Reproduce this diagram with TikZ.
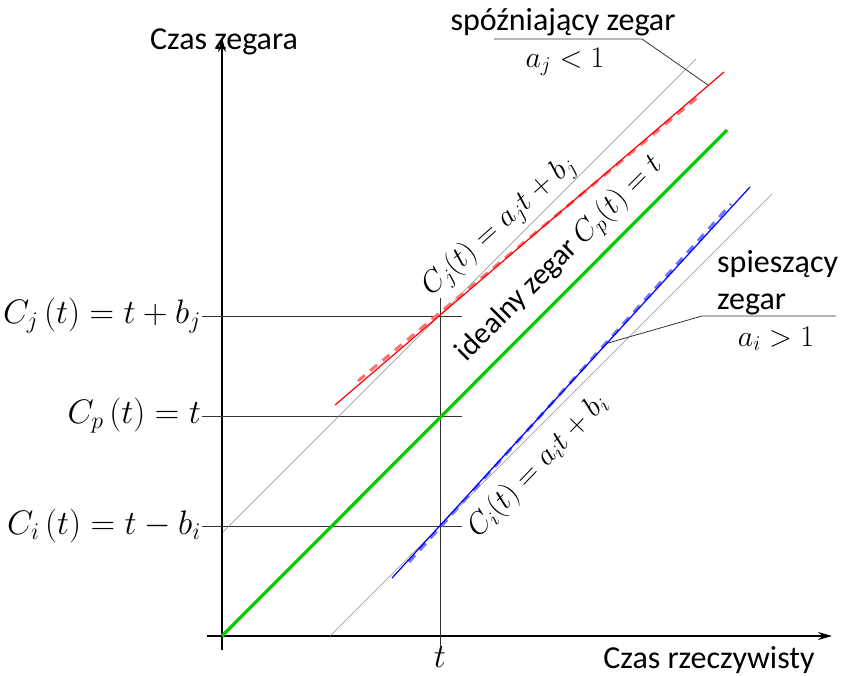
\documentclass[tikz,border=0pt]{standalone}
\usepackage{fix-cm}
\usepackage[no-math]{fontspec}
\setmainfont{Carlito}
\usetikzlibrary{arrows.meta}
\definecolor{idealgreen}{RGB}{0,204,0}
\tikzset{
	axis/.style={line width=1.8pt, -{Stealth[length=14pt,width=8pt]}},
	guide/.style={line width=0.8pt, black!80},
	helper/.style={line width=0.4pt, black!45},
	clockline/.style={line width=1.2pt},
	approx/.style={line width=3pt, dash pattern=on 9pt off 7pt},
	sans/.style={font=\fontsize{32}{37}\selectfont, inner sep=1pt},
	formula/.style={font=\fontsize{34}{38}\selectfont, inner sep=1pt},
	slanted/.style={font=\fontsize{30}{34}\selectfont, inner sep=1pt},
}
\begin{document}
\begin{tikzpicture}[x=1pt,y=-1pt]
	\useasboundingbox (0,0) rectangle (846,675);

	% axes
	\coordinate (o) at (222,636);
	\coordinate (ybot) at (222,650);
	\coordinate (ytop) at (222,38);
	\coordinate (xbeg) at (207,636);
	\coordinate (xend) at (832,636);
	\draw[axis] (ybot) -- (ytop);
	\draw[axis] (xbeg) -- (xend);
	\node[sans] (ylabel) at (224,42) {Czas zegara};
	\node[sans] (xlabel) at (709,660) {Czas rzeczywisty};

	% chwila t
	\node[formula] (tmark) at (440,657) {$t$};
	\coordinate (ttop) at (440,298);
	\coordinate (tbot) at (440,648);
	\draw[guide] (tbot) -- (ttop);

	% odczyty zegarow
	\node[formula, anchor=east] (cj) at (202,316) {$C_j\,(t) = t + b_j$};
	\node[formula, anchor=east] (cp) at (202,416) {$C_p\,(t) = t$};
	\node[formula, anchor=east] (ci) at (202,526) {$C_i\,(t) = t - b_i$};
	\coordinate (cjend) at (462,316);
	\coordinate (cpend) at (462,416);
	\coordinate (ciend) at (462,526);
	\draw[guide] (cj.east) -- (cjend);
	\draw[guide] (cp.east) -- (cpend);
	\draw[guide] (ci.east) -- (ciend);

	% linie pomocnicze 45 stopni
	\coordinate (ha1) at (223,532);
	\coordinate (ha2) at (696,59);
	\coordinate (hb1) at (330,636);
	\coordinate (hb2) at (772,194);
	\draw[helper] (ha1) -- (ha2);
	\draw[helper] (hb1) -- (hb2);

	% zegar idealny
	\coordinate (p2) at (727,130);
	\draw[idealgreen, line width=3.2pt] (o) -- (p2);
	\node[slanted, rotate=45] (plabel) at (560,259) {idealny zegar $C_p(t) = t$};

	% zegar spozniajacy
	\coordinate (j1) at (335,405);
	\coordinate (j2) at (724,72);
	\coordinate (jd1) at (358,381);
	\coordinate (jd2) at (698,97);
	\draw[approx, red!55] (jd1) -- (jd2);
	\draw[clockline, red] (j1) -- (j2);
	\node[slanted, rotate=42] (jlabel) at (499,226) {$C_j(t) = a_j t + b_j$};

	% zegar spieszacy
	\coordinate (i1) at (392,578);
	\coordinate (i2) at (750,187);
	\coordinate (id1) at (409,562);
	\coordinate (id2) at (731,204);
	\draw[approx, blue!55] (id1) -- (id2);
	\draw[clockline, blue] (i1) -- (i2);
	\node[slanted, rotate=46] (ilabel) at (538,466) {$C_i(t) = a_i t + b_i$};

	% opisy
	\node[sans] (late) at (563,22) {spóźniający zegar};
	\node[slanted] (lateval) at (565,62) {$a_j < 1$};
	\coordinate (lk1) at (494,39);
	\coordinate (lk2) at (642,39);
	\coordinate (lk3) at (708,85);
	\draw[guide] (lk1) -- (lk2) -- (lk3);

	\node[sans, align=left, anchor=west] (fast) at (716,283) {spieszący\\zegar};
	\node[slanted] (fastval) at (776,339) {$a_i > 1$};
	\coordinate (fk1) at (836,316);
	\coordinate (fk2) at (702,316);
	\coordinate (fk3) at (608,343);
	\draw[guide] (fk1) -- (fk2) -- (fk3);
\end{tikzpicture}
\end{document}
